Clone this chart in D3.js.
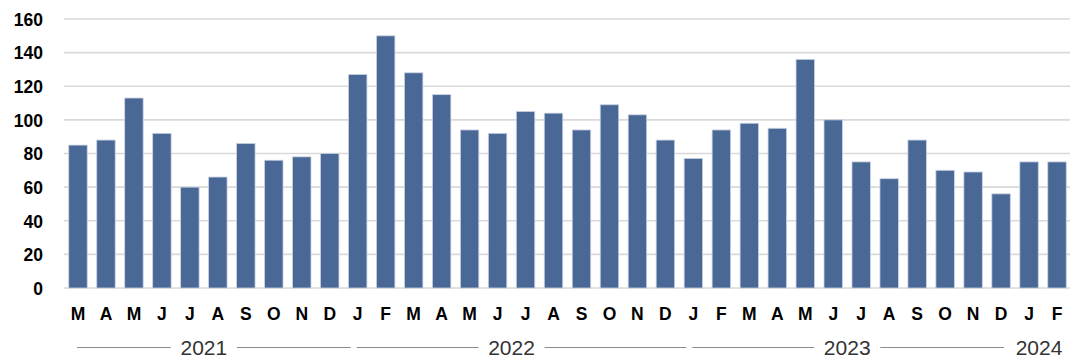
<!DOCTYPE html>
<html>
<head>
<meta charset="utf-8">
<script src="https://cdn.jsdelivr.net/npm/d3@7"></script>
<style>
  html, body { margin: 0; padding: 0; background: #fff; }
  svg { display: block; }
</style>
</head>
<body>
<svg id="chart" width="1070" height="360"></svg>
<script>
// Monthly series, March 2021 through February 2024
const months = ["M","A","M","J","J","A","S","O","N","D",
                "J","F","M","A","M","J","J","A","S","O","N","D",
                "J","F","M","A","M","J","J","A","S","O","N","D",
                "J","F"];
const years = ["2021","2021","2021","2021","2021","2021","2021","2021","2021","2021",
               "2022","2022","2022","2022","2022","2022","2022","2022","2022","2022","2022","2022",
               "2023","2023","2023","2023","2023","2023","2023","2023","2023","2023","2023","2023",
               "2024","2024"];
const values = [85, 88, 113, 92, 60, 66, 86, 76, 78, 80,
                127, 150, 128, 115, 94, 92, 105, 104, 94, 109, 103, 88,
                77, 94, 98, 95, 136, 100, 75, 65, 88, 70, 69, 56,
                75, 75];
const yTicks = [0, 20, 40, 60, 80, 100, 120, 140, 160];

const svg = d3.select("#chart");
const plotLeft = 64, plotRight = 1071, plotTop = 19, plotBottom = 288;

const idx = d3.range(values.length);
const x = d3.scaleBand().domain(idx).range([plotLeft, plotRight])
  .paddingInner(0.34).paddingOuter(0.17);
const y = d3.scaleLinear().domain([0, 160]).range([plotBottom, plotTop]);

// horizontal gridlines
svg.append("g").selectAll("line").data(yTicks).join("line")
  .attr("x1", plotLeft).attr("x2", 1070)
  .attr("y1", d => y(d)).attr("y2", d => y(d))
  .attr("stroke", "#d9d9d9").attr("stroke-width", 1.6);

// y axis labels
const yAxis = d3.axisLeft(y).tickValues(yTicks).tickSize(0).tickPadding(0);
const gy = svg.append("g").attr("transform", "translate(43,0)").call(yAxis);
gy.select(".domain").remove();
gy.selectAll("text")
  .attr("font-family", "Liberation Sans, Arial, sans-serif")
  .attr("font-size", 17.5).attr("font-weight", "bold").attr("fill", "#000")
  .attr("dy", "0.36em");

// bars
svg.append("g").selectAll("rect").data(idx).join("rect")
  .attr("x", i => x(i)).attr("width", x.bandwidth())
  .attr("y", i => y(values[i])).attr("height", i => y(0) - y(values[i]))
  .attr("fill", "#4a6895").attr("stroke", "#c9d2e2").attr("stroke-width", 0.8);

// month labels
const xAxis = d3.axisBottom(x).tickFormat(i => months[i]).tickSize(0).tickPadding(0);
const gx = svg.append("g").attr("transform", "translate(0,320)").call(xAxis);
gx.select(".domain").remove();
gx.selectAll("text")
  .attr("font-family", "Liberation Sans, Arial, sans-serif")
  .attr("font-size", 17.5).attr("font-weight", "bold").attr("fill", "#000")
  .attr("dy", 0);

// year groups with bracket lines either side of the label
const step = x.step();
const groups = [];
years.forEach((yr, i) => {
  const last = groups[groups.length - 1];
  if (last && last.year === yr) last.end = i;
  else groups.push({ year: yr, start: i, end: i });
});
const yearY = 355, lineY = 347.5, textW = 50, gap = 8;
groups.forEach(g => {
  g.x0 = x(g.start) - step * 0.17;
  g.x1 = x(g.end) + x.bandwidth() + step * 0.17;
  g.cx = Math.min((g.x0 + g.x1) / 2, 1064 - textW / 2);
});
const gYear = svg.append("g");
groups.forEach((g, k) => {
  gYear.append("text")
    .attr("x", g.cx).attr("y", yearY)
    .attr("text-anchor", "middle")
    .attr("font-family", "Liberation Sans, Arial, sans-serif")
    .attr("font-size", 21).attr("fill", "#333")
    .text(g.year);
  if (g.x1 - g.x0 > textW + 40) {
    const next = groups[k + 1];
    let lEnd = g.x1 + 7;
    if (next) lEnd = Math.min(lEnd, next.cx - textW / 2 - 10);
    const segs = [[g.x0 + 13, g.cx - textW / 2 - gap], [g.cx + textW / 2 + gap, lEnd]];
    segs.forEach(([a, b]) => {
      gYear.append("line")
        .attr("x1", a).attr("x2", b).attr("y1", lineY).attr("y2", lineY)
        .attr("stroke", "#8c8c8c").attr("stroke-width", 1);
    });
  }
});
</script>
</body>
</html>
